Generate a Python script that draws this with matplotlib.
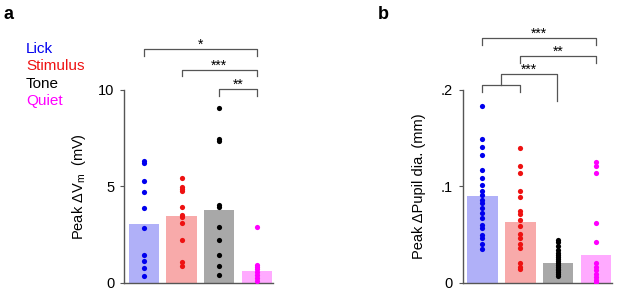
import matplotlib.pyplot as plt

plt.rcParams['font.family'] = ['Liberation Sans', 'DejaVu Sans']

# groups and colours
groups = ["Lick", "Stimulus", "Tone", "Quiet"]
dot_colors = ["#0000ee", "#ee1111", "#000000", "#ff00ff"]
bar_colors = ["#b0b0f8", "#f8aaaa", "#a8a8a8", "#ffaaff"]

# panel a: peak delta Vm (mV)
vm_means = [3.08, 3.47, 3.78, 0.64]
vm_lick = [6.3, 6.2, 5.3, 4.7, 3.9, 2.85, 1.45, 1.15, 0.8, 0.35]
vm_stim = [5.45, 4.95, 4.85, 4.75, 3.95, 3.5, 3.4, 3.1, 2.25, 1.1, 0.9]
vm_tone = [9.07, 7.45, 7.33, 4.02, 3.93, 2.9, 2.24, 1.43, 0.86, 0.43]
vm_quiet = [2.9, 0.95, 0.85, 0.7, 0.55, 0.4, 0.25, 0.1]

# panel b: peak delta pupil diameter (mm)
pu_means = [0.0905, 0.063, 0.021, 0.0295]
pu_lick = [0.183, 0.149, 0.141, 0.133, 0.117, 0.109, 0.102, 0.095, 0.091,
           0.086, 0.083, 0.078, 0.072, 0.067, 0.060, 0.057, 0.050, 0.047,
           0.040, 0.035]
pu_stim = [0.140, 0.121, 0.114, 0.0955, 0.0886, 0.075, 0.071, 0.0655, 0.0586,
           0.051, 0.047, 0.040, 0.036, 0.021, 0.017, 0.014]
pu_tone = [0.045, 0.042, 0.038, 0.034, 0.031, 0.029, 0.027, 0.025, 0.023,
           0.021, 0.019, 0.017, 0.015, 0.013, 0.011, 0.009, 0.007]
pu_quiet = [0.125, 0.121, 0.114, 0.062, 0.042, 0.021, 0.017, 0.013, 0.009,
            0.006, 0.003, 0.001]

vm_points = [vm_lick, vm_stim, vm_tone, vm_quiet]
pu_points = [pu_lick, pu_stim, pu_tone, pu_quiet]

line_col = "#555555"


def draw_panel(ax, means, points, ylim, yticks, yticklabels, ylabel, lpad):
    x = range(len(groups))
    ax.bar(x, means, width=0.8, color=bar_colors, zorder=1)
    for i, vals in enumerate(points):
        ax.scatter([i] * len(vals), vals, s=14, color=dot_colors[i],
                   zorder=3, linewidths=0)
    ax.set_ylim(*ylim)
    ax.set_xlim(-0.52, 3.42)
    ax.set_yticks(yticks)
    ax.set_yticklabels(yticklabels, fontsize=10.5)
    ax.set_xticks([])
    ax.tick_params(axis="y", length=3, width=0.8, color=line_col, pad=4)
    for s in ["top", "right"]:
        ax.spines[s].set_visible(False)
    for s in ["left", "bottom"]:
        ax.spines[s].set_color(line_col)
        ax.spines[s].set_linewidth(1.0)
    ax.set_ylabel(ylabel, fontsize=10.5, labelpad=lpad)


def bracket(ax, x1, x2, y, tick, label, ty):
    ax.plot([x1, x1, x2, x2], [y - tick, y, y, y - tick], color=line_col,
            lw=0.9, clip_on=False)
    if label:
        ax.text((x1 + x2) / 2, y + ty, label, ha="center", va="bottom",
                fontsize=10, clip_on=False)


fig = plt.figure(figsize=(6.17, 2.91), dpi=100)
ax1 = fig.add_axes([0.201, 0.0275, 0.2415, 0.6635])
ax2 = fig.add_axes([0.750, 0.0275, 0.242, 0.6635])

draw_panel(ax1, vm_means, vm_points, (0, 10), [0, 5, 10], ["0", "5", "10"],
           "Peak ΔV$_\\mathregular{m}$  (mV)", 7)
draw_panel(ax2, pu_means, pu_points, (0, 0.2), [0, 0.1, 0.2], ["0", ".1", ".2"],
           "Peak ΔPupil dia. (mm)", 11)

# significance brackets, panel a
bracket(ax1, 0, 3, 12.1, 0.35, "*", -0.15)
bracket(ax1, 1, 3, 11.05, 0.35, "***", -0.15)
bracket(ax1, 2, 3, 10.05, 0.35, "**", -0.15)

# significance brackets, panel b
bracket(ax2, 0, 3, 0.254, 0.007, "***", -0.003)
bracket(ax2, 1, 3, 0.235, 0.007, "**", -0.003)
bracket(ax2, 0, 1, 0.205, 0.007, None, 0)
ax2.plot([0.5, 0.5, 1.97, 1.97], [0.205, 0.216, 0.216, 0.189],
         color=line_col, lw=0.9, clip_on=False)
ax2.text(1.23, 0.214, "***", ha="center", va="bottom", fontsize=10)

# group legend as coloured text
for i, (g, c) in enumerate(zip(groups, dot_colors)):
    fig.text(0.042, 1 - (49 + 17.3 * i) / 291, g, color=c, fontsize=11,
             ha="left", va="center")

fig.text(0.006, 0.95, "a", fontsize=13, fontweight="bold", va="center")
fig.text(0.612, 0.95, "b", fontsize=13, fontweight="bold", va="center")

fig.savefig("out.png", dpi=100)
